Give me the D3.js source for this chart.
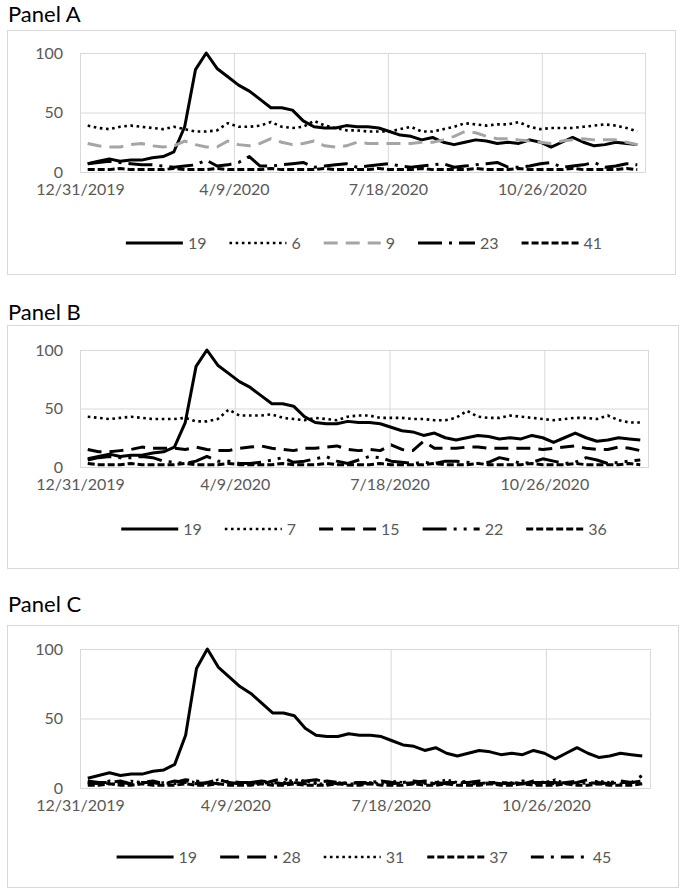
<!DOCTYPE html>
<html>
<head>
<meta charset="utf-8">
<script src="https://d3js.org/d3.v7.min.js"></script>
<style>
  body { margin: 0; background: #fff; }
  svg text { font-family: Lato, "Open Sans", sans-serif; }
</style>
</head>
<body>
<svg id="chart" width="685" height="895"></svg>
<script>
// weekly search interest, weeks starting 1/5/2020
const weekStart = new Date(2020, 0, 5);
const weekCount = 52;

const s19 = [7, 9, 11, 9, 10, 10, 12, 13, 17, 38, 86, 100, 87, 80, 73, 68, 61, 54, 54, 52, 43, 38,
  37, 37, 39, 38, 38, 37, 34, 31, 30, 27, 29, 25, 23, 25, 27, 26, 24, 25, 24, 27, 25, 21, 25, 29,
  25, 22, 23, 25, 24, 23];

// Panel A
const a6 = [39, 37, 36, 38, 39, 38, 37, 36, 38, 36, 34, 34, 35, 41, 38, 38, 39, 42, 38, 37, 38, 43,
  39, 37, 35, 35, 34, 34, 34, 36, 38, 34, 34, 36, 38, 41, 40, 39, 40, 40, 42, 38, 36, 37, 37, 37,
  38, 39, 40, 39, 37, 34];
const a9 = [24, 22, 21, 21, 23, 24, 22, 21, 22, 26, 23, 21, 21, 26, 23, 22, 24, 28, 25, 23, 24, 26,
  22, 21, 22, 25, 24, 24, 24, 24, 24, 25, 25, 27, 30, 34, 33, 30, 28, 28, 27, 26, 25, 24, 26, 27,
  28, 27, 27, 27, 25, 23];
const a23 = [7, 8, 9, 8, 7, 6, 6, 5, 4, 5, 6, 10, 5, 6, 8, 13, 5, 5, 6, 7, 8, 4, 5, 6, 7, 4, 5, 6,
  7, 5, 4, 5, 6, 7, 4, 5, 6, 7, 8, 4, 4, 5, 7, 8, 4, 5, 6, 8, 4, 5, 7, 6];
const a41 = [2, 2, 2, 3, 2, 2, 2, 2, 3, 2, 2, 2, 3, 2, 2, 2, 2, 3, 2, 2, 2, 2, 3, 2, 2, 2, 2, 3,
  2, 2, 2, 3, 2, 2, 2, 2, 3, 2, 2, 2, 3, 2, 2, 2, 2, 3, 2, 2, 2, 2, 3, 2];

// Panel B
const b7 = [43, 42, 41, 42, 43, 42, 41, 41, 41, 42, 39, 39, 41, 49, 44, 44, 44, 45, 42, 41, 40, 42,
  41, 40, 43, 44, 44, 42, 42, 42, 41, 41, 40, 40, 42, 48, 43, 42, 42, 44, 43, 42, 41, 40, 41, 42,
  42, 41, 44, 40, 38, 38];
const b15 = [15, 13, 13, 14, 15, 17, 16, 16, 16, 15, 17, 15, 14, 14, 16, 17, 18, 16, 15, 14, 16, 16,
  17, 18, 15, 14, 15, 14, 19, 15, 14, 22, 16, 16, 16, 17, 17, 16, 16, 16, 16, 16, 15, 16, 17, 18,
  16, 15, 15, 17, 16, 14];
const b22 = [6, 8, 9, 8, 8, 9, 8, 5, 4, 3, 5, 9, 5, 5, 3, 3, 4, 6, 8, 4, 5, 7, 9, 5, 3, 6, 9, 8,
  5, 4, 3, 4, 3, 5, 5, 4, 3, 4, 8, 6, 3, 4, 7, 5, 3, 4, 8, 6, 3, 4, 5, 6];
const b36 = [3, 2, 2, 2, 3, 2, 2, 2, 2, 3, 2, 2, 2, 3, 2, 2, 2, 2, 3, 2, 2, 2, 3, 2, 2, 2, 2, 3,
  2, 2, 2, 2, 3, 2, 2, 2, 3, 2, 2, 2, 2, 3, 2, 2, 2, 3, 2, 2, 2, 2, 3, 2];

// Panel C
const c28 = [5, 4, 4, 5, 3, 4, 4, 3, 5, 4, 3, 4, 6, 4, 3, 4, 5, 4, 3, 4, 5, 6, 4, 3, 4, 4, 3, 5,
  4, 3, 4, 5, 4, 3, 4, 4, 5, 4, 3, 4, 3, 5, 4, 4, 3, 4, 6, 4, 3, 4, 4, 5];
const c31 = [3, 4, 3, 3, 5, 4, 3, 4, 3, 5, 4, 3, 6, 4, 3, 3, 4, 3, 4, 6, 5, 3, 3, 4, 3, 3, 4, 3,
  5, 4, 3, 3, 4, 6, 4, 3, 3, 4, 3, 4, 3, 3, 4, 6, 3, 4, 3, 5, 4, 3, 4, 3];
const c37 = [2, 2, 3, 2, 2, 3, 2, 2, 2, 3, 2, 2, 3, 2, 2, 2, 3, 2, 2, 3, 2, 2, 2, 3, 2, 2, 3, 2,
  2, 2, 3, 2, 2, 3, 2, 2, 2, 3, 2, 2, 3, 2, 2, 2, 3, 2, 2, 3, 2, 2, 2, 3];
const c45 = [4, 3, 5, 4, 3, 4, 5, 3, 4, 6, 5, 4, 3, 5, 4, 4, 3, 5, 7, 4, 3, 4, 5, 4, 3, 4, 4, 5,
  3, 4, 5, 4, 3, 4, 4, 5, 3, 4, 4, 3, 5, 4, 4, 3, 4, 5, 4, 3, 4, 5, 4, 9];

const xTickLabels = ['12/31/2019', '4/9/2020', '7/18/2020', '10/26/2020'];
const yTicks = [0, 50, 100];

const weeks = d3.range(weekCount).map(i => d3.timeDay.offset(weekStart, 7 * i));
const axisStart = new Date(2019, 11, 31);
const axisEnd = d3.timeDay.offset(axisStart, 367);
const parseTick = d3.timeParse('%m/%d/%Y');

// line styles
const solid = { color: '#000', width: 3, dash: null };
const dotted = { color: '#000', width: 2.6, dash: '2.6 3.6' };
const greyDash = { color: '#a5a5a5', width: 3, dash: '14 8' };
const dash = { color: '#000', width: 3, dash: '14 8' };
const longDash = { color: '#000', width: 3, dash: '19 8' };
const shortDash = { color: '#000', width: 3, dash: '7 3' };
const lgDashDot = { color: '#000', width: 3, dash: '24 7 3 7' };
const lgDashDotDot = { color: '#000', width: 3, dash: '24 7 3 7 3 7' };
const dashDot = { color: '#000', width: 3, dash: '13 7 3 7' };

const panels = [
  { title: 'Panel A', titleY: 22, box: [7, 30, 675, 274], plot: [80, 53, 645, 172], legendY: 243,
    series: [['19', s19, solid], ['6', a6, dotted], ['9', a9, greyDash], ['23', a23, lgDashDot], ['41', a41, shortDash]] },
  { title: 'Panel B', titleY: 320, box: [7, 325, 678, 568], plot: [80, 350, 648, 467], legendY: 529,
    series: [['19', s19, solid], ['7', b7, dotted], ['15', b15, dash], ['22', b22, lgDashDotDot], ['36', b36, shortDash]] },
  { title: 'Panel C', titleY: 612, box: [7, 625, 678, 887], plot: [80, 649, 650, 788], legendY: 857,
    series: [['19', s19, solid], ['28', c28, longDash], ['31', c31, dotted], ['37', c37, shortDash], ['45', c45, dashDot]] }
];

const svg = d3.select('#chart');
const fontFamily = 'Lato, "Open Sans", sans-serif';

panels.forEach(p => {
  const [bx0, by0, bx1, by1] = p.box;
  const [px0, py0, px1, py1] = p.plot;

  svg.append('text')
    .attr('x', 8).attr('y', p.titleY)
    .attr('font-size', 22).attr('fill', '#000')
    .text(p.title);

  svg.append('rect')
    .attr('x', bx0 + 0.5).attr('y', by0 + 0.5)
    .attr('width', bx1 - bx0).attr('height', by1 - by0)
    .attr('fill', '#fff').attr('stroke', '#d9d9d9');

  const x = d3.scaleTime().domain([axisStart, axisEnd]).range([px0, px1]);
  const y = d3.scaleLinear().domain([0, 100]).range([py1, py0]);

  const g = svg.append('g');

  // horizontal gridlines + labels
  const yAxis = d3.axisLeft(y).tickValues(yTicks).tickSize(-(px1 - px0)).tickPadding(17);
  g.append('g').attr('transform', `translate(${px0},0)`).call(yAxis)
    .call(s => s.select('.domain').remove())
    .call(s => s.selectAll('line').attr('stroke', '#d9d9d9'))
    .call(s => s.selectAll('text').attr('fill', '#595959').attr('font-size', 16)
      .style('font-family', fontFamily));

  // vertical gridlines + date labels
  const tickDates = xTickLabels.map(parseTick);
  const xAxis = d3.axisBottom(x).tickValues(tickDates).tickSize(-(py1 - py0))
    .tickFormat(d3.timeFormat('%-m/%-d/%Y'));
  g.append('g').attr('transform', `translate(0,${py1})`).call(xAxis)
    .call(s => s.select('.domain').attr('stroke', '#d9d9d9'))
    .call(s => s.selectAll('line').attr('stroke', '#d9d9d9'))
    .call(s => s.selectAll('text').attr('fill', '#595959').attr('font-size', 16)
      .attr('dy', null).attr('y', 23)
      .style('font-family', fontFamily));

  const line = d3.line()
    .x((d, i) => x(weeks[i]))
    .y(d => y(d));

  p.series.forEach(([name, values, st]) => {
    g.append('path')
      .datum(values)
      .attr('d', line)
      .attr('fill', 'none')
      .attr('stroke', st.color)
      .attr('stroke-width', st.width)
      .attr('stroke-linejoin', 'round')
      .attr('stroke-dasharray', st.dash);
  });

  // legend
  const lg = svg.append('g');
  let cx = 0;
  p.series.forEach(([name, values, st]) => {
    const item = lg.append('g').attr('transform', `translate(${cx},0)`);
    item.append('line')
      .attr('x1', 0).attr('x2', 57).attr('y1', 0).attr('y2', 0)
      .attr('stroke', st.color).attr('stroke-width', st.width)
      .attr('stroke-dasharray', st.dash);
    const t = item.append('text')
      .attr('x', 62).attr('y', 6)
      .attr('font-size', 16).attr('fill', '#595959')
      .text(name);
    cx += 62 + t.node().getComputedTextLength() + 23;
  });
  const legendWidth = cx - 23;
  lg.attr('transform', `translate(${364 - legendWidth / 2},${p.legendY})`);
});
</script>
</body>
</html>
